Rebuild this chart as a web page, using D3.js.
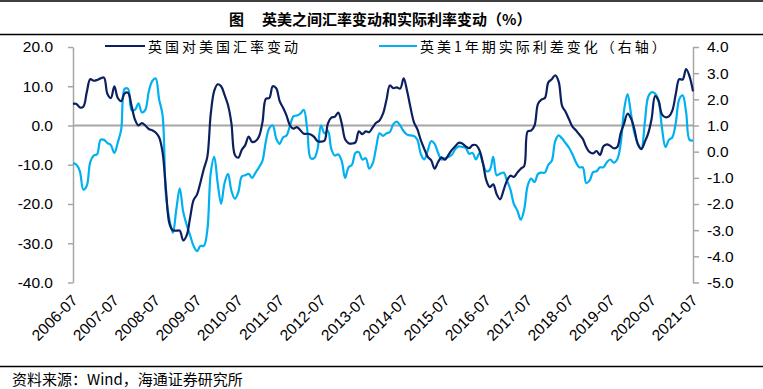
<!DOCTYPE html>
<html>
<head>
<meta charset="utf-8">
<script src="https://cdn.jsdelivr.net/npm/d3@7"></script>
<style>
body { margin: 0; background: #fff; }
svg { display: block; }
</style>
</head>
<body>
<svg id="chart" width="763" height="389"></svg>
<script>
const svg = d3.select('#chart');

// data, monthly from 2006-07
const startYear = 2006, startMonth = 7;
const tickLabels = ['2006-07','2007-07','2008-07','2009-07','2010-07','2011-07','2012-07','2013-07',
  '2014-07','2015-07','2016-07','2017-07','2018-07','2019-07','2020-07','2021-07'];
const leftTicks = [20, 10, 0, -10, -20, -30, -40];
const rightTicks = [4, 3, 2, 1, 0, -1, -2, -3, -4, -5];
const seriesNames = ['英国对美国汇率变动', '英美1年期实际利差变化（右轴）'];

const gbpUsd = [
  5.5, 5.5, 4.6, 4.8, 8.5, 11.8, 11.4, 11.6, 12.0, 12.2,
  8.0, 7.0, 10.0, 7.0, 6.2, 8.2, 8.3, 5.0, 1.5, 0.0,
  0.6, 0.0, -0.9, -1.2, -1.8, -3.0, -6.8, -16.5, -25.0, -26.7,
  -26.8, -26.8, -29.3, -28.0, -23.5, -19.0, -17.6, -14.5, -11.0, -8.0,
  3.0, 8.8, 10.5, 10.0, 7.8, 5.2, 0.5, -7.5, -8.2, -6.2,
  -5.0, -2.8, -4.2, -4.0, -2.8, 0.8, 6.8, 7.0, 10.0, 9.5,
  6.2, 4.5, 2.5, 0.0, -0.8, -0.4, -1.2, -2.1, -2.1, -2.3,
  -2.9, -4.0, -4.1, -3.9, 0.5, 2.0, 2.2, 3.3, 0.6, -3.5,
  -4.5, -4.6, -4.3, -1.5, -2.2, -1.5, -1.7, -0.5, 0.7, 1.3,
  3.0, 6.5, 10.2, 9.5, 9.7, 9.4, 12.0, 8.8, 4.5, 0.8,
  -1.0, -3.8, -6.0, -8.0, -8.9, -11.0, -9.3, -8.1, -8.7, -7.5,
  -6.2, -5.3, -4.4, -4.6, -5.3, -5.8, -5.0, -5.0, -6.3, -9.5,
  -14.0, -15.7, -15.0, -17.5, -18.8, -16.5, -14.0, -12.8, -13.1, -12.0,
  -11.0, -10.3, -1.5, -1.3, 0.0, 5.5, 6.6, 7.0, 11.0, 11.8,
  12.8, 11.2, 5.0, 3.5, 1.6, -0.3, -1.2, -2.3, -3.4, -5.5,
  -6.8, -7.1, -6.5, -7.5, -5.3, -4.8, -5.2, -5.8, -5.5, -2.0,
  0.5, 3.0, 1.8, -1.0, -4.8, -6.0, -4.2, -2.0, 1.8, 7.5,
  6.3, 2.8, 2.1, 2.3, 3.8, 8.0, 11.8, 11.7, 14.4, 12.5,
  8.7
];

const realRateDiff = [
  -0.44, -0.5, -0.75, -1.45, -1.3, -0.4, -0.15, -0.1, 0.45, 0.45,
  0.33, 0.25, -0.05, 0.35, 0.85, 2.4, 2.4, 1.6, 1.6, 1.85,
  1.5, 1.6, 2.3, 2.7, 2.8, 2.0, 1.4, -1.7, -2.6, -3.1,
  -2.2, -1.4, -2.3, -2.8, -3.2, -3.6, -3.8, -3.6, -3.6, -3.0,
  -0.8, -0.2, -1.2, -2.0, -1.2, -0.85, -1.5, -1.8, -1.55, -0.95,
  -0.9, -0.85, -1.0, -0.8, -0.6, -0.35, 0.4, 0.9, 1.0, 0.5,
  0.3, 0.55, 0.62, 1.0, 1.35, 1.38, 1.45, 1.6, 0.85, -0.25,
  -0.25, 0.1, 1.0, 0.7, 0.8, 0.1, -0.15, -0.1, -0.35, -1.0,
  -0.6, -0.5, -0.05, -0.02, -0.3, -0.25, -0.65, -0.45, 0.15, 0.7,
  0.6, 0.7, 0.75, 1.05, 1.15, 1.0, 0.78, 0.65, 0.62, 0.6,
  0.45, -0.1, -0.3, 0.05, 0.4, 0.3, -0.05, -0.3, -0.25, -0.2,
  -0.12, 0.1, 0.2, 0.18, 0.15, -0.08, -0.05, -0.3, -0.05, -0.45,
  -0.75, -0.7, -0.2, -0.9, -0.84, -0.8, -1.1, -1.45, -2.0, -2.25,
  -2.6, -2.2, -1.3, -1.03, -1.16, -0.85, -0.8, -0.8, -0.5, -0.35,
  0.4, 0.62, 0.5, 0.33, 0.15, -0.1, -0.4, -0.6, -0.6, -1.2,
  -1.1, -0.78, -0.75, -0.6, -0.6, -0.4, -0.3, -0.42, -0.3, 0.3,
  1.6, 2.2, 1.45, 0.7, 0.3, 0.1, 1.1, 2.1, 2.27, 2.22,
  1.95, 0.9, 0.18, 0.45, 0.55, 1.1, 2.0, 2.15, 1.5, 0.45,
  0.43
];

const months = gbpUsd.map((d, i) => {
  const t = startMonth - 1 + i;
  return (startYear + Math.floor(t / 12)) + '-' + String(t % 12 + 1).padStart(2, '0');
});

const darkBlue = '#0c1f5e';
const lightBlue = '#00b0f0';
const gridGray = '#a6a6a6';
const numFont = '"Liberation Sans", Arial, sans-serif';
const cjkFont = '"Noto Sans CJK SC", sans-serif';

const x = d3.scalePoint().domain(months).range([73, 693]);
const yL = d3.scaleLinear().domain([-40, 20]).range([282.5, 47]);
const yR = d3.scaleLinear().domain([-5, 4]).range([282.5, 47]);

// title bar
svg.append('line').attr('x1', 0).attr('x2', 763).attr('y1', 1).attr('y2', 1)
  .attr('stroke', '#000').attr('stroke-width', 1.5);
svg.append('line').attr('x1', 0).attr('x2', 763).attr('y1', 34.5).attr('y2', 34.5)
  .attr('stroke', '#000').attr('stroke-width', 1.5);
svg.append('text').attr('x', 229).attr('y', 18).attr('dominant-baseline', 'central')
  .attr('font-family', cjkFont).attr('font-weight', 'bold').attr('font-size', 15)
  .text('图');
svg.append('text').attr('x', 262).attr('y', 18).attr('dominant-baseline', 'central')
  .attr('font-family', cjkFont).attr('font-weight', 'bold').attr('font-size', 15)
  .text('英美之间汇率变动和实际利率变动（%）');

// zero line
svg.append('line')
  .attr('x1', 73).attr('x2', 693).attr('y1', yL(0)).attr('y2', yL(0))
  .attr('stroke', gridGray).attr('stroke-width', 2);

// axes
const fmt = d => d.toFixed(1);
const gL = svg.append('g').attr('transform', 'translate(73,0)')
  .call(d3.axisLeft(yL).tickValues(leftTicks).tickFormat(fmt).tickSize(5).tickSizeOuter(0).tickPadding(15));
const gR = svg.append('g').attr('transform', 'translate(693,0)')
  .call(d3.axisRight(yR).tickValues(rightTicks).tickFormat(fmt).tickSize(6).tickSizeOuter(0).tickPadding(8));
[gL, gR].forEach(g => {
  g.select('.domain').attr('stroke', gridGray).attr('stroke-width', 1.5);
  g.selectAll('.tick line').attr('stroke', gridGray).attr('stroke-width', 1.5);
  g.selectAll('.tick text').attr('font-family', numFont).attr('font-size', 15.5).attr('fill', '#000');
});

const gX = svg.append('g').attr('transform', 'translate(0,282.5)')
  .call(d3.axisBottom(x).tickValues(tickLabels).tickSize(0));
gX.select('.domain').remove();
gX.selectAll('.tick text')
  .attr('y', 0).attr('dy', 0)
  .attr('transform', 'translate(5,19) rotate(-45)')
  .attr('text-anchor', 'end')
  .attr('font-family', numFont).attr('font-size', 15.5).attr('fill', '#000');

// lines
const lineL = d3.line().x((d, i) => x(months[i])).y(d => yL(d)).curve(d3.curveCatmullRom.alpha(0.5));
const lineR = d3.line().x((d, i) => x(months[i])).y(d => yR(d)).curve(d3.curveCatmullRom.alpha(0.5));

svg.append('path').datum(realRateDiff).attr('d', lineR)
  .attr('fill', 'none').attr('stroke', lightBlue).attr('stroke-width', 2.2);
svg.append('path').datum(gbpUsd).attr('d', lineL)
  .attr('fill', 'none').attr('stroke', darkBlue).attr('stroke-width', 2.2);

// legend
const legend = [
  { name: seriesNames[0], color: darkBlue, x0: 105, x1: 145 },
  { name: seriesNames[1], color: lightBlue, x0: 379, x1: 417 }
];
legend.forEach(l => {
  svg.append('line').attr('x1', l.x0).attr('x2', l.x1).attr('y1', 46).attr('y2', 46)
    .attr('stroke', l.color).attr('stroke-width', 2.2);
  svg.append('text').attr('x', l.x1 + 3).attr('y', 46).attr('dominant-baseline', 'central')
    .attr('font-family', cjkFont).attr('font-size', 14).attr('letter-spacing', 3)
    .attr('fill', '#000').text(l.name);
});

// source
svg.append('line').attr('x1', 0).attr('x2', 763).attr('y1', 366.5).attr('y2', 366.5)
  .attr('stroke', '#000').attr('stroke-width', 1.5);
svg.append('text').attr('x', 12).attr('y', 378).attr('dominant-baseline', 'central')
  .attr('font-family', cjkFont).attr('font-size', 15).attr('fill', '#000')
  .text('资料来源：Wind，海通证券研究所');
</script>
</body>
</html>
